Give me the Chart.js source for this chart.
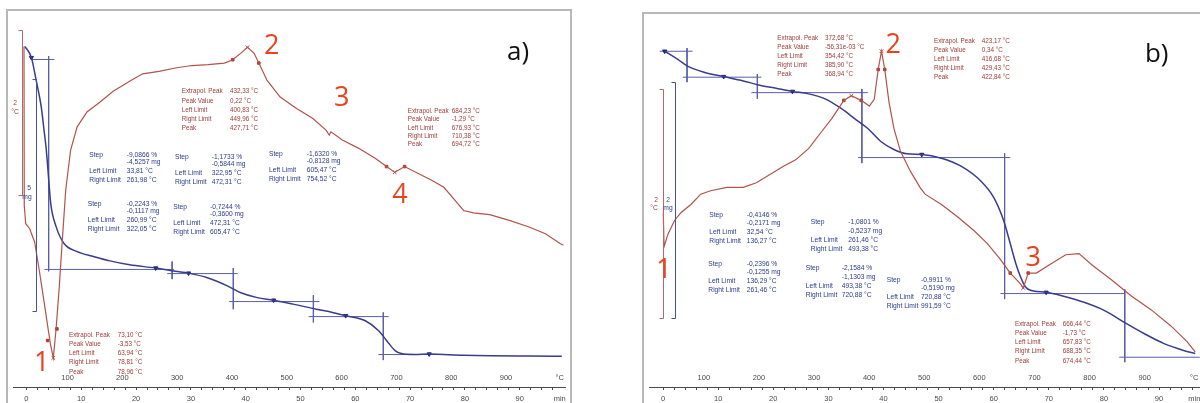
<!DOCTYPE html>
<html>
<head>
<meta charset="utf-8">
<script src="https://cdn.jsdelivr.net/npm/chart.js@4.4.1/dist/chart.umd.min.js"></script>
<style>
  html, body { margin: 0; padding: 0; background: #fff; width: 1200px; height: 403px; overflow: hidden; }
  .panel { position: absolute; border: 2px solid #b8b8b8; border-bottom: none; background: #fff; }
  #panelA { left: 6px; top: 9px; width: 562px; height: 400px; }
  #panelB { left: 642px; top: 12px; width: 566px; height: 400px; }
  canvas { display: block; }
</style>
</head>
<body>
<div class="panel" id="panelA"><canvas id="chartA" width="562" height="392"></canvas></div>
<div class="panel" id="panelB"><canvas id="chartB" width="566" height="389"></canvas></div>
<script>
// --------------------------- Panel a) data ---------------------------
// time in min, DTA in °C, TG in mass %
const dtaTimeA = [-0.45, -0.4, -0.13, 0.59, 1.49, 2.38, 3.28, 4.0, 4.42, 4.9, 5.38, 5.97, 6.56, 7.17, 8.06, 9.25, 11.04, 13.44, 15.82, 18.82, 21.2, 24.19, 27.17, 30.16, 33.15, 36.13, 37.63, 39.12, 40.32, 41.51, 42.4, 43.91, 46.29, 49.28, 52.26, 54.66, 55.25, 55.56, 57.63, 60.63, 63.62, 65.7, 67.2, 69.0, 71.4, 73.76, 76.16, 77.96, 79.75, 81.54, 84.52, 88.1, 91.7, 94.68, 97.37, 97.96];
const dtaA = [0.23, -1.69, -1.91, -1.97, -2.13, -2.49, -2.88, -3.20, -3.38, -3.53, -3.20, -2.69, -2.09, -1.50, -1.02, -0.74, -0.56, -0.44, -0.31, -0.19, -0.10, -0.07, -0.03, 0.00, 0.01, 0.03, 0.07, 0.15, 0.22, 0.15, 0.03, -0.18, -0.38, -0.52, -0.64, -0.78, -0.84, -0.80, -0.90, -1.00, -1.12, -1.22, -1.29, -1.22, -1.30, -1.38, -1.47, -1.61, -1.75, -1.78, -1.80, -1.87, -1.95, -2.03, -2.15, -2.17];
const tgTimeA = [-0.3, 0.9, 1.79, 2.69, 3.28, 3.58, 3.87, 4.42, 5.43, 6.86, 9.25, 12.24, 15.23, 18.82, 23.58, 27.17, 29.57, 33.15, 36.74, 39.12, 42.11, 45.09, 48.67, 52.87, 55.84, 58.24, 61.83, 64.21, 65.7, 67.2, 68.39, 70.79, 73.48, 79.75, 97.67];
const tgA = [100.48, 99.99, 98.99, 97.87, 96.7, 96.1, 95.3, 93.7, 92.67, 91.95, 91.60, 91.39, 91.20, 91.03, 90.89, 90.75, 90.67, 90.46, 90.11, 89.82, 89.61, 89.50, 89.33, 89.11, 88.97, 88.83, 88.61, 88.19, 87.76, 87.33, 87.19, 87.15, 87.17, 87.12, 87.08];
const dtaMarkTimeA = [3.87, 5.56, 37.63, 42.4, 65.7, 69.0];
const dtaMarkA = [-3.32, -3.18, 0.07, 0.03, -1.22, -1.22];
const dtaPeakTimeA = [4.9, 40.32, 67.2];
const dtaPeakA = [-3.53, 0.22, -1.29];
const tgMarkTimeA = [0.9, 23.58, 29.57, 45.09, 58.24, 73.48];
const tgMarkA = [99.99, 90.89, 90.67, 89.50, 88.83, 87.17];
// step evaluation lines: vertical [t, from %, to %], horizontal [level %, t1, t2]
const stepVertA = [[4.05, 100.06, 90.75], [26.58, 91.17, 90.41], [37.74, 90.89, 89.11], [52.35, 89.72, 88.54], [65.11, 88.97, 86.91]];
const stepHorzA = [[99.91, 0.9, 5.07], [90.83, 3.28, 26.94], [90.65, 25.68, 38.53], [89.44, 36.97, 53.46], [88.79, 51.49, 66.09], [87.15, 64.21, 74.96]];
const peakValuesA = [
  ['73,10 °C', '-3,53 °C', '63,94 °C', '78,81 °C', '78,96 °C'],
  ['432,33 °C', '0,22 °C', '400,83 °C', '449,96 °C', '427,71 °C'],
  ['684,23 °C', '-1,29 °C', '676,93 °C', '710,38 °C', '694,72 °C']
];
const stepValuesA = [
  ['-9,0866 %', '-4,5257 mg', '33,81 °C', '261,98 °C'],
  ['-1,1733 %', '-0,5844 mg', '322,95 °C', '472,31 °C'],
  ['-0,2243 %', '-0,1117 mg', '260,99 °C', '322,05 °C'],
  ['-0,7244 %', '-0,3600 mg', '472,31 °C', '605,47 °C'],
  ['-1,6320 %', '-0,8128 mg', '605,47 °C', '754,52 °C']
];

// --------------------------- Panel b) data ---------------------------
const dtaTimeB = [0.04, 0.18, 0.89, 2.09, 3.28, 5.06, 6.84, 8.63, 11.59, 14.56, 16.93, 19.32, 21.69, 24.06, 26.45, 28.82, 30.61, 32.8, 34.17, 35.95, 37.43, 38.32, 39.04, 39.64, 40.23, 41.0, 41.89, 43.08, 44.87, 46.65, 47.54, 50.52, 53.48, 56.45, 58.82, 61.21, 63.0, 64.78, 65.37, 66.26, 67.74, 70.71, 73.08, 75.47, 77.84, 81.41, 84.97, 88.54, 92.1, 95.08, 96.56];
const dtaB = [-1.07, -1.37, -1.26, -1.14, -1.07, -1.00, -0.91, -0.88, -0.85, -0.85, -0.81, -0.74, -0.67, -0.61, -0.51, -0.36, -0.25, -0.09, -0.05, -0.09, -0.14, -0.08, 0.18, 0.34, 0.18, -0.105, -0.335, -0.536, -0.709, -0.853, -0.91, -1.00, -1.11, -1.23, -1.34, -1.48, -1.60, -1.69, -1.73, -1.60, -1.60, -1.51, -1.44, -1.43, -1.53, -1.66, -1.80, -1.92, -2.06, -2.20, -2.29];
const tgTimeB = [0.3, 2.67, 4.46, 7.43, 11.0, 14.56, 17.54, 20.5, 23.48, 26.45, 29.41, 32.39, 34.76, 37.15, 39.52, 41.89, 44.28, 46.95, 50.52, 54.08, 57.65, 60.02, 61.8, 63.0, 64.17, 65.37, 66.26, 69.52, 72.5, 76.65, 80.21, 83.78, 87.34, 90.91, 94.47, 96.56];
const tgB = [100.00, 99.87, 99.76, 99.66, 99.59, 99.52, 99.45, 99.40, 99.35, 99.31, 99.23, 99.07, 98.91, 98.75, 98.54, 98.41, 98.34, 98.33, 98.27, 98.14, 97.90, 97.63, 97.26, 96.89, 96.52, 96.25, 96.15, 96.10, 96.04, 95.93, 95.80, 95.61, 95.43, 95.27, 95.16, 95.11];
const dtaMarkTimeB = [32.8, 35.95, 39.04, 40.23, 63.0, 66.26];
const dtaMarkB = [-0.09, -0.09, 0.18, 0.18, -1.60, -1.60];
const dtaPeakTimeB = [34.17, 39.64, 65.37];
const dtaPeakB = [-0.05, 0.34, -1.73];
const tgMarkTimeB = [0.3, 11.0, 23.48, 46.95, 69.52];
const tgMarkB = [100.0, 99.59, 99.35, 98.33, 96.10];
const stepVertB = [[4.35, 100.05, 99.50], [17.11, 99.63, 99.23], [36.08, 99.39, 98.19], [61.98, 98.35, 95.99], [83.78, 96.15, 94.97]];
const stepHorzB = [[100.0, -0.59, 5.35], [99.58, 3.57, 17.83], [99.33, 16.04, 37.15], [98.28, 35.37, 63.0], [96.08, 61.21, 83.78], [95.05, 82.78, 97.4]];
const peakValuesB = [
  ['372,68 °C', '-56,31e-03 °C', '354,42 °C', '385,90 °C', '368,94 °C'],
  ['423,17 °C', '0,34 °C', '416,68 °C', '429,43 °C', '422,84 °C'],
  ['666,44 °C', '-1,73 °C', '657,83 °C', '688,35 °C', '674,44 °C']
];
const stepValuesB = [
  ['-0,4146 %', '-0,2171 mg', '32,54 °C', '136,27 °C'],
  ['-0,2396 %', '-0,1255 mg', '136,29 °C', '261,46 °C'],
  ['-1,0801 %', '-0,5237 mg', '261,46 °C', '493,38 °C'],
  ['-2,1584 %', '-1,1303 mg', '493,38 °C', '720,88 °C'],
  ['-0,9911 %', '-0,5190 mg', '720,88 °C', '991,59 °C']
];

const peakLabels = ['Extrapol. Peak', 'Peak Value', 'Left Limit', 'Right Limit', 'Peak'];
const stepLabels = ['Step', '', 'Left Limit', 'Right Limit'];
const tempTicks = [100, 200, 300, 400, 500, 600, 700, 800, 900];

// --------------------------- Colours / fonts ---------------------------
const RED_LINE = '#b0534a';
const BLUE_LINE = '#383d8e';
const STEP_LINE = '#5a5fa9';
const RED_TEXT = '#9c3a34';
const BLUE_TEXT = '#2a3b8a';
const NUM_RED = '#e8431f';
const PEAK_FONT = '6.3px "Liberation Sans", Arial, sans-serif';
const STEP_FONT = '6.7px "Liberation Sans", Arial, sans-serif';
const AXIS = '#4a4a4a';

const pts = (xs, ys) => xs.map((x, i) => ({ x, y: ys[i] }));

// --------------------------- Overlay plugin (texts, scale bars) ---------------------------
const overlay = {
  id: 'overlay',
  afterDatasetsDraw(chart, args, o) {
    const ctx = chart.ctx;
    const sx = chart.scales.x;
    const L = chart.chartArea.left, T = chart.chartArea.top;
    ctx.save();

    // scale bars
    o.bars.forEach(b => {
      const x = Math.round(sx.getPixelForValue(b.t)) + 0.5;
      const ys = chart.scales[b.axis];
      const y1 = Math.round(ys.getPixelForValue(b.from)) + 0.5;
      const y2 = Math.round(ys.getPixelForValue(b.to)) + 0.5;
      ctx.strokeStyle = b.color;
      ctx.lineWidth = 1;
      ctx.beginPath();
      ctx.moveTo(x - 4, y1); ctx.lineTo(x, y1); ctx.lineTo(x, y2); ctx.lineTo(x - 4, y2);
      ctx.stroke();
    });

    ctx.font = STEP_FONT;
    ctx.textBaseline = 'middle';
    ctx.textAlign = 'center';
    o.barLabels.forEach(l => {
      ctx.fillStyle = l.color;
      ctx.fillText(l.text, L + l.x, T + l.y);
    });

    ctx.textAlign = 'left';
    // peak evaluation boxes (red)
    ctx.font = PEAK_FONT;
    ctx.fillStyle = RED_TEXT;
    o.peakBoxes.forEach((p, i) => {
      peakLabels.forEach((lab, r) => {
        ctx.fillText(lab, L + p.x, T + p.y + r * p.dy);
        ctx.fillText(o.peakValues[i][r], L + p.vx, T + p.y + r * p.dy);
      });
    });
    // step evaluation boxes (blue)
    ctx.font = STEP_FONT;
    ctx.fillStyle = BLUE_TEXT;
    o.stepBoxes.forEach((s, i) => {
      stepLabels.forEach((lab, r) => {
        const y = T + s.y + o.stepRows[r];
        if (lab) ctx.fillText(lab, L + s.x, y);
        ctx.fillText(o.stepValues[i][r], L + s.vx, y);
      });
    });

    // unit labels at the end of the axes
    ctx.fillStyle = AXIS;
    ctx.textAlign = 'center';
    ctx.font = '7.5px "Liberation Sans", Arial, sans-serif';
    ctx.fillText('°C', sx.getPixelForValue(o.unitAt), chart.scales.xT.top + 9.5);
    ctx.fillText('min', sx.getPixelForValue(o.unitAt), chart.scales.x.top + 11.5);

    // big numbers
    ctx.font = '27px "Open Sans", "Liberation Sans", sans-serif';
    ctx.fillStyle = NUM_RED;
    o.numbers.forEach(n => ctx.fillText(n.text, L + n.x, T + n.y));
    ctx.fillStyle = '#111';
    ctx.font = '26px "Open Sans", "Liberation Sans", sans-serif';
    ctx.fillText(o.letter.text, L + o.letter.x, T + o.letter.y);
    ctx.restore();
  }
};

// --------------------------- Chart builder ---------------------------
function buildPanel(id, d) {
  const datasets = [
    { data: pts(d.dtaTime, d.dta), yAxisID: 'yD', borderColor: RED_LINE, borderWidth: 1.2 },
    { data: pts(d.tgTime, d.tg), yAxisID: 'yM', borderColor: BLUE_LINE, borderWidth: 1.5, cubicInterpolationMode: 'monotone' },
    { data: pts(d.dtaMarkTime, d.dtaMark), yAxisID: 'yD', showLine: false, pointRadius: 1.8, pointStyle: 'rect', pointBackgroundColor: '#b4392e', pointBorderColor: '#b4392e' },
    { data: pts(d.dtaPeakTime, d.dtaPeak), yAxisID: 'yD', showLine: false, pointRadius: 2.5, pointStyle: 'crossRot', pointBorderColor: '#c0392b', pointBorderWidth: 1 },
    { data: pts(d.tgMarkTime, d.tgMark), yAxisID: 'yM', showLine: false, pointRadius: 2.4, pointStyle: 'triangle', rotation: 180, pointBackgroundColor: '#1c2478', pointBorderColor: '#1c2478' }
  ];
  d.stepVert.forEach(s => datasets.push({
    data: [{ x: s[0], y: s[1] }, { x: s[0], y: s[2] }], yAxisID: 'yM', borderColor: STEP_LINE, borderWidth: 1
  }));
  d.stepHorz.forEach(s => datasets.push({
    data: [{ x: s[1], y: s[0] }, { x: s[2], y: s[0] }], yAxisID: 'yM', borderColor: STEP_LINE, borderWidth: 1
  }));
  datasets.forEach(ds => { ds.xAxisID = 'x'; ds.fill = false; if (ds.pointRadius === undefined) ds.pointRadius = 0; });

  return new Chart(document.getElementById(id), {
    type: 'line',
    data: { datasets },
    options: {
      responsive: false,
      animation: false,
      devicePixelRatio: 1,
      layout: { padding: 0 },
      plugins: { legend: { display: false }, tooltip: { enabled: false }, overlay: d.overlay },
      scales: {
        x: {
          type: 'linear', position: 'bottom', weight: 1,
          min: d.tMin, max: d.tMax,
          afterBuildTicks: s => { s.ticks = []; for (let v = 0; v <= 96; v += 2) s.ticks.push({ value: v }); },
          afterFit: s => { s.height = 16; },
          ticks: { autoSkip: false, maxRotation: 0, padding: 4, color: AXIS, font: { family: 'Liberation Sans', size: 7.5 },
                   callback: v => (v % 10 === 0 ? String(v) : '') },
          grid: { drawOnChartArea: false, tickLength: 3, tickColor: AXIS },
          border: { color: AXIS, width: 1 }
        },
        xT: {
          type: 'linear', position: 'bottom', weight: 0,
          min: d.TMin, max: d.TMax,
          afterBuildTicks: s => { s.ticks = tempTicks.map(v => ({ value: v })); },
          afterFit: s => { s.height = 19; },
          ticks: { autoSkip: false, maxRotation: 0, padding: 5, color: AXIS, font: { family: 'Liberation Sans', size: 7.5 } },
          grid: { display: false, drawTicks: false, tickLength: 0 },
          border: { display: false }
        },
        yD: { type: 'linear', display: false, min: d.dMin, max: d.dMax },
        yM: { type: 'linear', display: false, min: d.mMin, max: d.mMax }
      }
    },
    plugins: [overlay]
  });
}

buildPanel('chartA', {
  dtaTime: dtaTimeA, dta: dtaA, tgTime: tgTimeA, tg: tgA,
  dtaMarkTime: dtaMarkTimeA, dtaMark: dtaMarkA, dtaPeakTime: dtaPeakTimeA, dtaPeak: dtaPeakA,
  tgMarkTime: tgMarkTimeA, tgMark: tgMarkA, stepVert: stepVertA, stepHorz: stepHorzA,
  tMin: -2.455, tMax: 98.26, TMin: 0.45, TMax: 1007.6,
  dMin: -3.652, dMax: 0.598, mMin: 86.567, mMax: 101.79,
  overlay: {
    bars: [
      { axis: 'yD', t: -0.75, from: 0.431, to: -1.569, color: '#b06a64' },
      { axis: 'yM', t: 1.75, from: 99.06, to: 89.02, color: '#4a4f9c' }
    ],
    barLabels: [
      { text: '2', x: 2, y: 87, color: RED_TEXT }, { text: '°C', x: 2, y: 96, color: RED_TEXT },
      { text: '5', x: 16, y: 172, color: BLUE_TEXT }, { text: 'mg', x: 14, y: 181, color: BLUE_TEXT }
    ],
    peakValues: peakValuesA,
    peakBoxes: [{ x: 56, y: 319, vx: 104.7, dy: 9.2 }, { x: 168.7, y: 75.7, vx: 217, dy: 9.15 }, { x: 394.7, y: 95, vx: 438.7, dy: 8.4 }],
    stepValues: stepValuesA,
    stepRows: [0, 7, 16, 25],
    stepBoxes: [{ x: 76.3, y: 139, vx: 113.7 }, { x: 162, y: 141, vx: 198.7 }, { x: 74.7, y: 188, vx: 113.7 },
                { x: 160.3, y: 190.7, vx: 197 }, { x: 256, y: 138, vx: 293.7 }],
    unitAt: 97.3,
    numbers: [{ text: '1', x: 28.7, y: 347 }, { text: '2', x: 258.7, y: 30.7 }, { text: '3', x: 328.7, y: 82.3 }, { text: '4', x: 387, y: 179 }],
    letter: { text: 'a)', x: 505, y: 37 }
  }
});

buildPanel('chartB', {
  dtaTime: dtaTimeB, dta: dtaB, tgTime: tgTimeB, tg: tgB,
  dtaMarkTime: dtaMarkTimeB, dtaMark: dtaMarkB, dtaPeakTime: dtaPeakTimeB, dtaPeak: dtaPeakB,
  tgMarkTime: tgMarkTimeB, tgMark: tgMarkB, stepVert: stepVertB, stepHorz: stepHorzB,
  tMin: -2.549, tMax: 98.34, TMin: 0.51, TMax: 1009.4,
  dMin: -2.4302, dMax: 0.6216, mMin: 94.8756, mMax: 100.5215,
  overlay: {
    bars: [
      { axis: 'yD', t: -0.05, from: 0.009, to: -1.99, color: '#b06a64' },
      { axis: 'yM', t: 2.21, from: 99.50, to: 95.68, color: '#4a4f9c' }
    ],
    barLabels: [
      { text: '2', x: 7, y: 181, color: RED_TEXT }, { text: '°C', x: 5, y: 189, color: RED_TEXT },
      { text: '2', x: 19, y: 181, color: BLUE_TEXT }, { text: 'mg', x: 19, y: 189, color: BLUE_TEXT }
    ],
    peakValues: peakValuesB,
    peakBoxes: [{ x: 128.3, y: 19.3, vx: 176, dy: 8.9 }, { x: 285, y: 22.7, vx: 332.7, dy: 8.9 }, { x: 366, y: 305, vx: 413.7, dy: 9.2 }],
    stepValues: stepValuesB,
    stepRows: [0, 8.5, 17.5, 26.5],
    stepBoxes: [{ x: 60.3, y: 196, vx: 97.7 }, { x: 59.3, y: 245, vx: 97.7 }, { x: 161.7, y: 203.3, vx: 199.3 },
                { x: 156.7, y: 249.3, vx: 192.7 }, { x: 237.7, y: 261, vx: 272 }],
    unitAt: 96.4,
    numbers: [{ text: '1', x: 15, y: 251 }, { text: '2', x: 244.3, y: 26 }, { text: '3', x: 384.3, y: 239.3 }],
    letter: { text: 'b)', x: 507.7, y: 36 }
  }
});
</script>
</body>
</html>
